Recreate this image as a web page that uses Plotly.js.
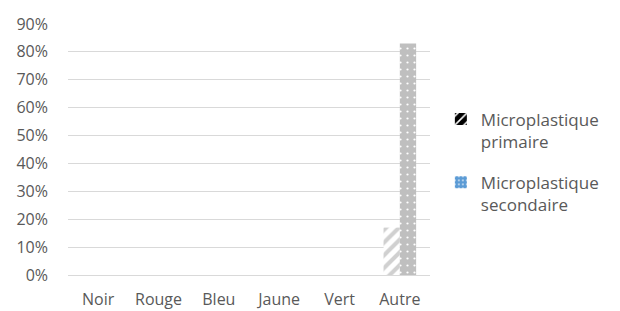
<!DOCTYPE html>
<html>
<head>
<meta charset="utf-8">
<script src="https://cdn.plot.ly/plotly-3.0.1.min.js"></script>
<style>html,body{margin:0;padding:0;background:#fff;}#chart{width:620px;height:311px;}</style>
</head>
<body>
<div id="chart"></div>
<script>
const categories = ["Noir", "Rouge", "Bleu", "Jaune", "Vert", "Autre"];
const primaire = [0, 0, 0, 0, 0, 0.17];
const secondaire = [0, 0, 0, 0, 0, 0.83];
const seriesNames = ["Microplastique<br>primaire", "Microplastique<br>secondaire"];
const yTicks = [0, 0.1, 0.2, 0.3, 0.4, 0.5, 0.6, 0.7, 0.8, 0.9];

const fam = "'Open Sans', sans-serif";
const txt = {family: fam, size: 16, color: "#595959"};
const legTxt = {family: fam, size: 17, color: "#595959"};

const data = [
  {type: "bar", x: categories, y: primaire, name: seriesNames[0], offsetgroup: "a", showlegend: false,
   marker: {color: "#ffffff", line: {width: 0}, pattern: {shape: "/", fgcolor: "#d0d0d0", bgcolor: "#ffffff", size: 9, solidity: 0.45}}, hoverinfo: "skip"},
  {type: "bar", x: categories, y: secondaire, name: seriesNames[1], offsetgroup: "b", showlegend: false,
   marker: {color: "#bfbfbf", line: {width: 0}, pattern: {shape: ".", fgcolor: "#ffffff", bgcolor: "#bfbfbf", size: 7, solidity: 0.08}}, hoverinfo: "skip"},
  {type: "bar", x: [categories[0]], y: [null], name: seriesNames[0], offsetgroup: "a", legendgroup: "p",
   marker: {color: "#000000", line: {width: 0}, pattern: {shape: "/", fgcolor: "#ffffff", bgcolor: "#000000", size: 8, solidity: 0.25}}},
  {type: "bar", x: [categories[0]], y: [null], name: seriesNames[1], offsetgroup: "b", legendgroup: "s",
   marker: {color: "#5b9bd5", line: {width: 0}, pattern: {shape: ".", fgcolor: "#ffffff", bgcolor: "#5b9bd5", size: 5, solidity: 0.15}}}
];

const layout = {
  width: 620, height: 311,
  margin: {l: 68, r: 190, t: 24, b: 36},
  paper_bgcolor: "#ffffff", plot_bgcolor: "#ffffff",
  font: txt,
  barmode: "group", bargap: 0.46, bargroupgap: 0,
  showlegend: true,
  legend: {x: 1.03, y: 0.45, yanchor: "middle", xanchor: "left", font: legTxt,
           traceorder: "grouped", tracegroupgap: 16, valign: "top", bgcolor: "rgba(0,0,0,0)"},
  xaxis: {type: "category", showgrid: false, showline: true, linecolor: "#d9d9d9", linewidth: 1,
          ticks: "", tickfont: txt, ticklabelstandoff: 10, fixedrange: true},
  yaxis: {range: [0, 0.9], tickvals: yTicks, tickformat: ".0%", showgrid: true, gridcolor: "#d9d9d9", gridwidth: 1,
          zeroline: false, showline: false, ticks: "", tickfont: txt,
          ticklabelstandoff: 19, fixedrange: true}
};

Plotly.newPlot("chart", data, layout, {displayModeBar: false, staticPlot: true});
</script>
</body>
</html>
